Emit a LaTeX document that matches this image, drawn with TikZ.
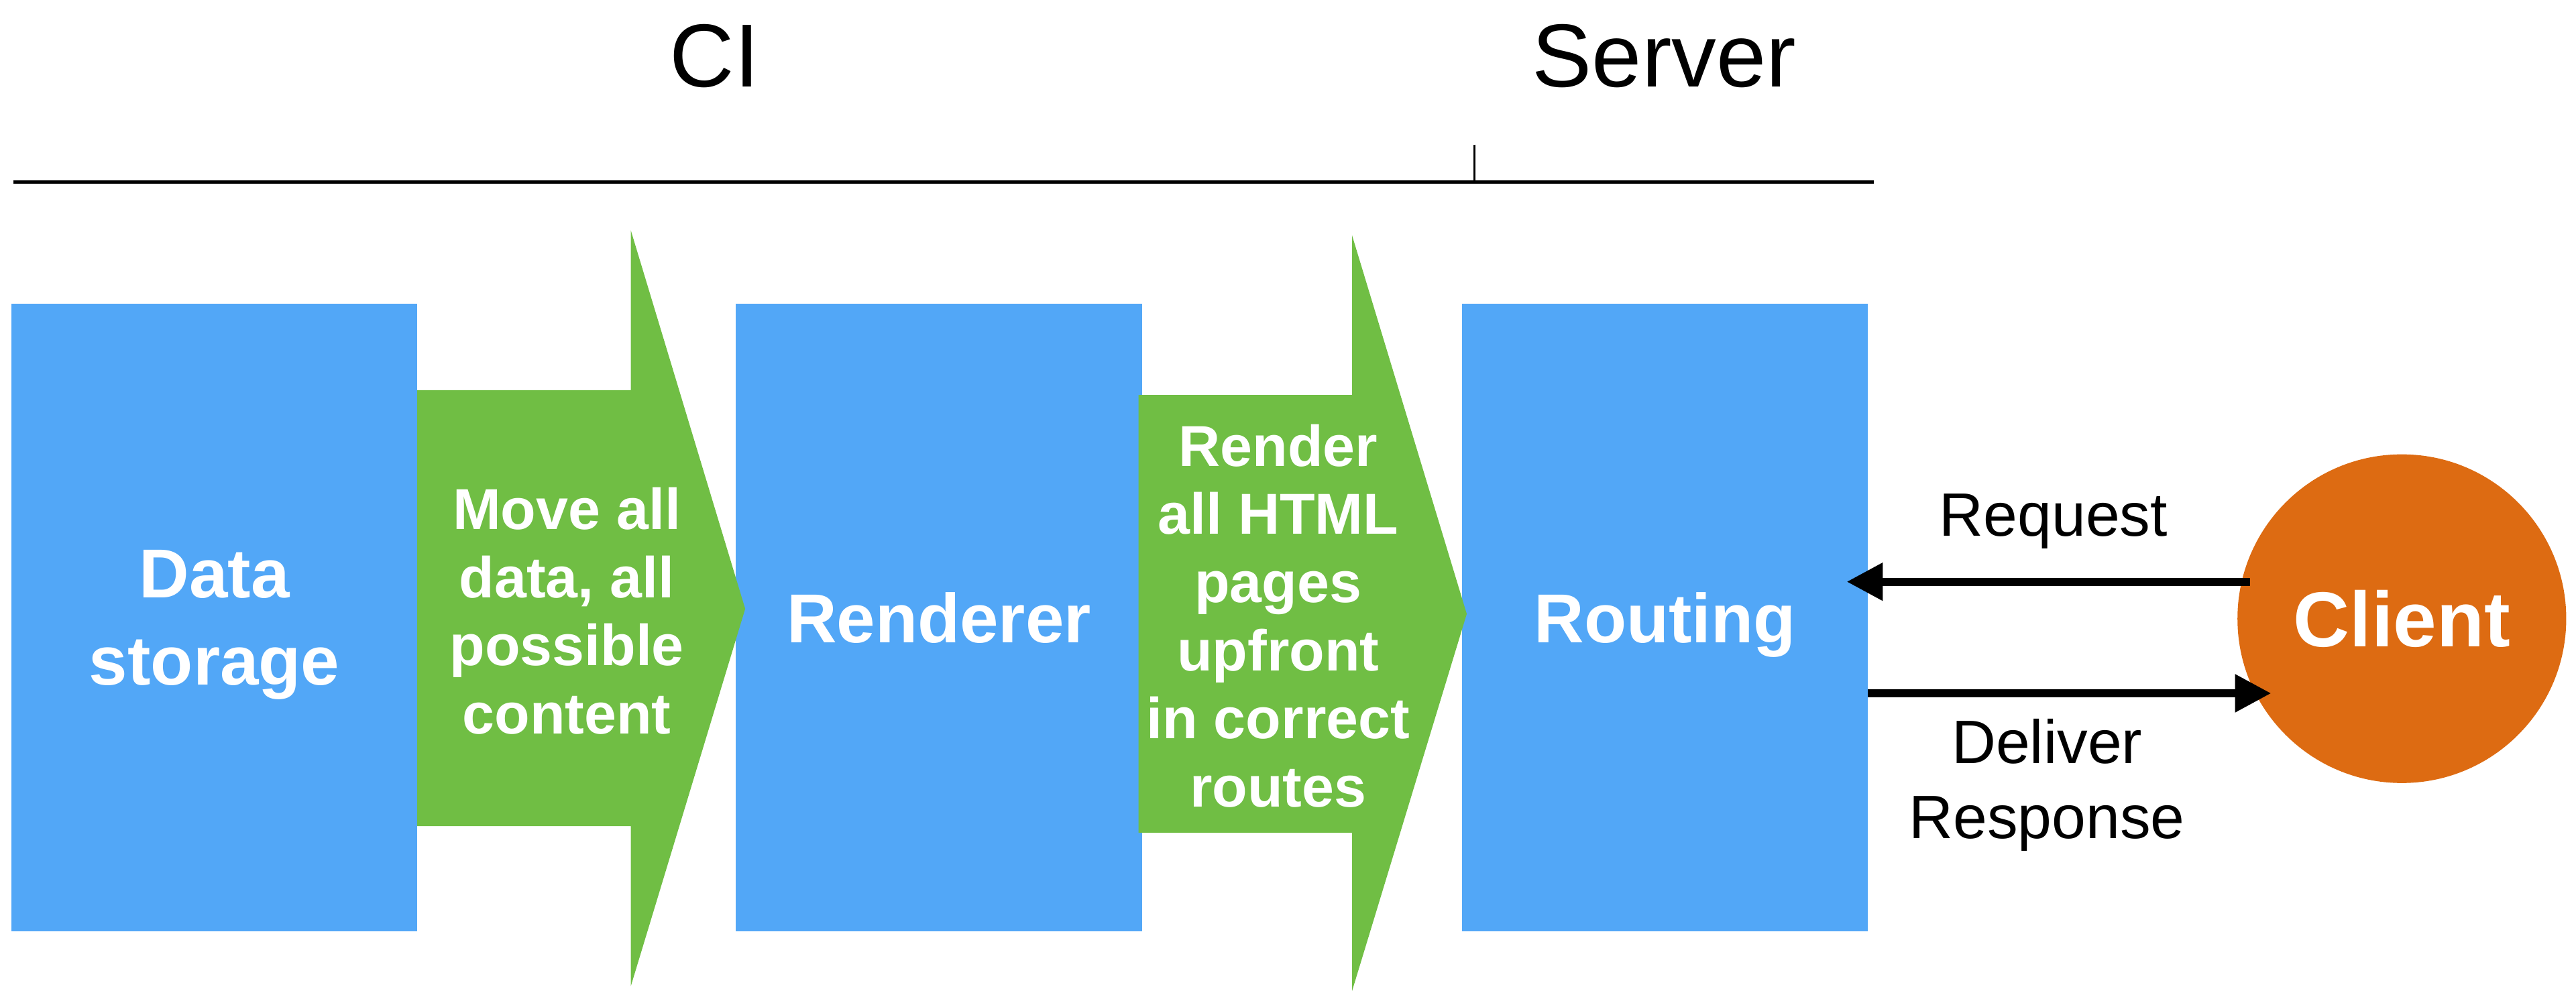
\documentclass[tikz,border=0pt]{standalone}
\usepackage{fontspec}
\setmainfont{Liberation Sans}
\usetikzlibrary{arrows.meta,calc}
\definecolor{boxblue}{RGB}{82,167,247}
\definecolor{arrgreen}{RGB}{112,190,68}
\definecolor{clientorange}{RGB}{221,107,18}
\begin{document}
\begin{tikzpicture}[x=0.01cm,y=-0.01cm,
  stage/.style={fill=boxblue, draw=none, minimum width=2.47cm, minimum height=3.82cm,
    inner sep=0pt, outer sep=0pt, text=white, align=center, text depth=-0.5mm,
    font=\fontsize{12}{15}\selectfont\bfseries},
  flowtext/.style={text=white, align=center, font=\fontsize{10}{11.8}\selectfont\bfseries},
  msglabel/.style={align=center, font=\fontsize{10.6}{12.9}\selectfont},
  heading/.style={anchor=base, font=\fontsize{15.5}{18}\selectfont},
  msg/.style={line width=1.4pt, -{Triangle[length=2.2mm,width=2.2mm]}},
  clientnode/.style={circle, fill=clientorange, minimum size=2cm, inner sep=0pt, outer sep=0pt,
    text=white, font=\fontsize{13.5}{16}\selectfont\bfseries}
]
\useasboundingbox (0,0) rectangle (1568,605.8);

% header rule
\coordinate (ruleL) at (8,110.8);
\coordinate (ruleR) at (1140.6,110.8);
\coordinate (tickT) at (897.4,88);
\coordinate (tickB) at (897.4,110.8);
\draw[line width=0.6pt] (ruleL) -- (ruleR);
\draw[line width=0.3pt] (tickT) -- (tickB);
\node[heading] (ci) at (435,53) {CI};
\node[heading] (server) at (1013,53) {Server};

% stages
\node[stage] (data) at (130.5,376) {Data\\storage};
\node[stage] (renderer) at (571.5,376) {Renderer};
\node[stage] (routing) at (1013.5,376) {Routing};

% green flow arrows
\fill[arrgreen] (254,237.5) -- (384,237.5) -- (384,140.3) -- (453.6,370.7)
  -- (384,600.4) -- (384,503) -- (254,503) -- cycle;
\node[flowtext] (move) at (345,372) {Move all\\data, all\\possible\\content};
\fill[arrgreen] (693,240.5) -- (823,240.5) -- (823,143.3) -- (892.8,373.8)
  -- (823,603.4) -- (823,507) -- (693,507) -- cycle;
\node[flowtext] (render) at (778,375) {Render\\all HTML\\pages\\upfront\\in correct\\routes};

% client
\node[clientnode] (client) at (1462,376.7) {Client};

% messages
\draw[msg] ($(client.167.7)+(5,0)$) -- ($(routing.east |- client.167.7)+(-13,0)$);
\draw[msg] (routing.east |- client.207.6) -- ($(client.207.6)+(9.6,0)$);
\node[msglabel, anchor=base] (req) at (1250,326.2) {Request};
\node[msglabel] (resp) at (1246,478) {Deliver\\Response};
\end{tikzpicture}
\end{document}
